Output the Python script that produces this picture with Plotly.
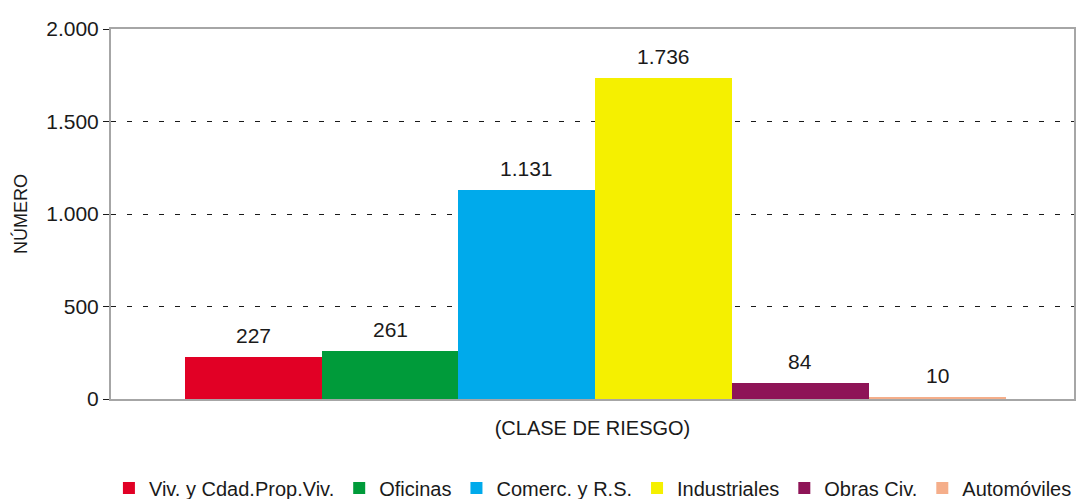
import plotly.graph_objects as go

categories = ["Viv. y Cdad.Prop.Viv.", "Oficinas", "Comerc. y R.S.", "Industriales", "Obras Civ.", "Automóviles"]
values = [227, 261, 1131, 1736, 84, 10]
colors = ["#E10025", "#009B3A", "#00AAEB", "#F5F000", "#8E1457", "#F5AE8A"]
y_ticks = [0, 500, 1000, 1500, 2000]
y_ticklabels = ["0", "500", "1.000", "1.500", "2.000"]

FONT = "Liberation Sans, Arial, sans-serif"

def fmt(v):
    return f"{v:,}".replace(",", ".")

fig = go.Figure()
for i, (name, v, c) in enumerate(zip(categories, values, colors)):
    fig.add_trace(go.Bar(
        x=[i], y=[v], name=name, width=1,
        marker=dict(color=c, line=dict(width=0)),
        hoverinfo="skip",
    ))
    fig.add_annotation(
        x=i, y=v, text=fmt(v), showarrow=False,
        yanchor="bottom", yshift=8,
        font=dict(family=FONT, size=21, color="#1a1a1a"),
    )

fig.update_layout(
    width=1078, height=499,
    margin=dict(l=111, r=4, t=29, b=100, autoexpand=False),
    paper_bgcolor="white", plot_bgcolor="white",
    barmode="overlay", bargap=0,
    font=dict(family=FONT, size=21, color="#1a1a1a"),
    showlegend=True,
    legend=dict(
        orientation="h", xref="container", yref="container",
        x=0.999, y=0.022, xanchor="right", yanchor="middle",
        font=dict(family=FONT, size=20, color="#1a1a1a"),
        traceorder="normal", itemclick=False,
    ),
)
fig.update_xaxes(
    range=[-1.04, 6.0], showticklabels=False, ticks="",
    showgrid=False, zeroline=False,
    showline=True, linecolor="#A6A6A6", linewidth=2, mirror=True,
    title=dict(text="(CLASE DE RIESGO)", font=dict(family=FONT, size=20, color="#1a1a1a"), standoff=21),
)
fig.update_yaxes(
    range=[0, 2000], tickvals=y_ticks, ticktext=y_ticklabels,
    ticks="outside", ticklen=6, tickcolor="#1a1a1a", tickwidth=1,
    tickfont=dict(family=FONT, size=21, color="#1a1a1a"),
    showgrid=True, gridcolor="#1a1a1a", gridwidth=1, griddash="5px,11px",
    zeroline=False,
    showline=True, linecolor="#A6A6A6", linewidth=2, mirror=True,
    title=dict(text="NÚMERO", font=dict(family=FONT, size=18, color="#1a1a1a"), standoff=14),
)

fig.write_html(
    "out.html",
    config={"displayModeBar": False, "staticPlot": True},
    post_script="document.body.style.margin='0';document.body.style.overflow='hidden';",
)
